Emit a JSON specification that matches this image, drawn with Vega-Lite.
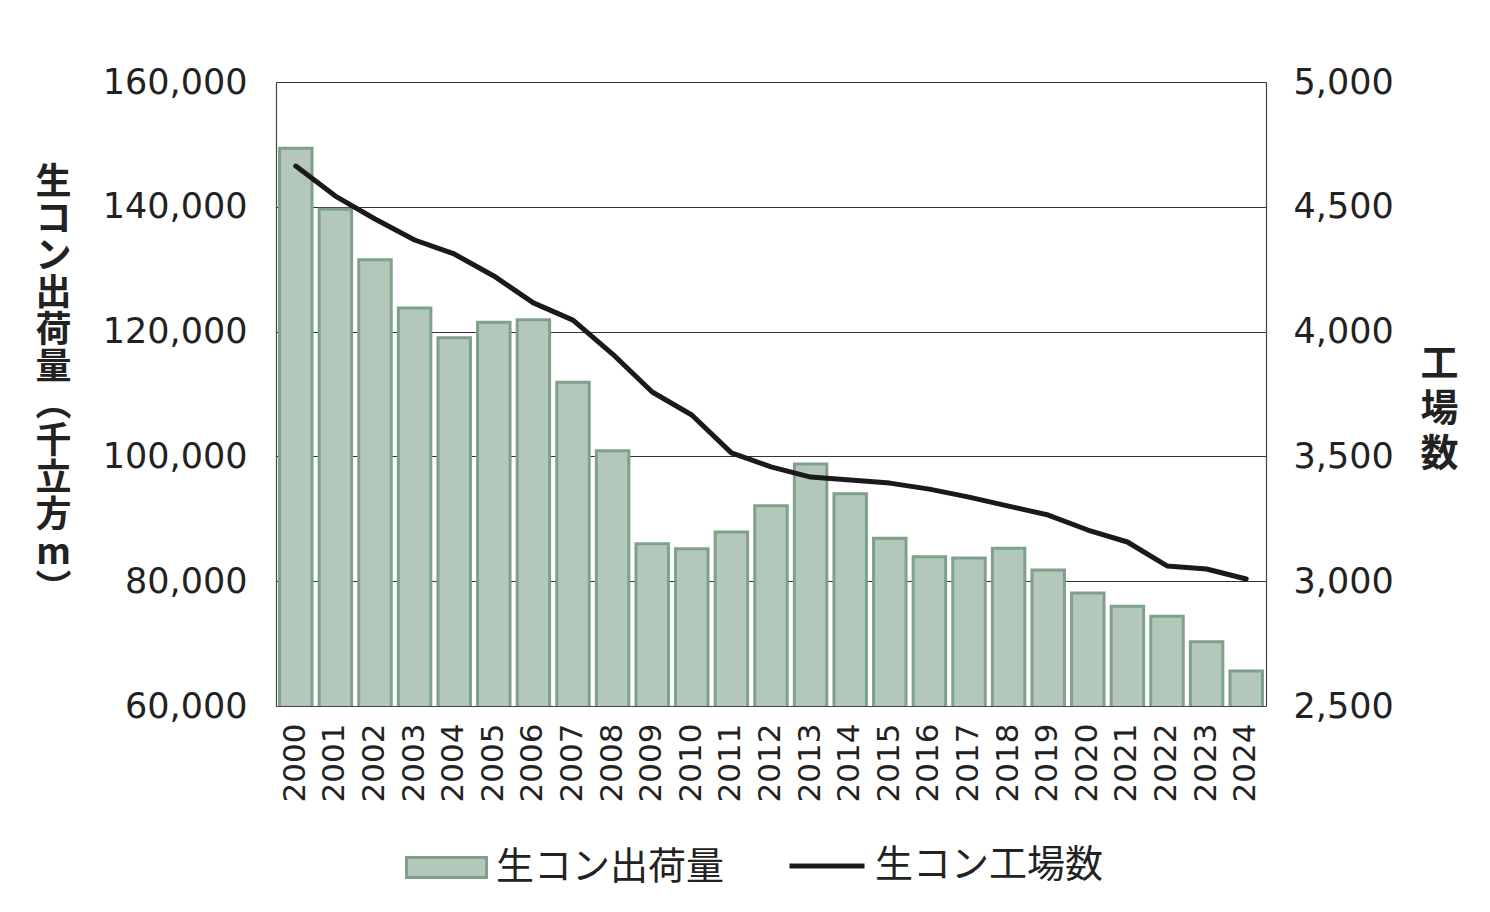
{
  "$schema": "https://vega.github.io/schema/vega-lite/v6.json",
  "autosize": {"type": "none"},
  "padding": {"left": 276, "top": 82, "right": 224, "bottom": 206},
  "width": 990,
  "height": 624,
  "background": "white",
  "datasets": {
    "d": [
      {"year": "2000", "shipment": 149400, "plants": 4663},
      {"year": "2001", "shipment": 139600, "plants": 4543},
      {"year": "2002", "shipment": 131500, "plants": 4451},
      {"year": "2003", "shipment": 123800, "plants": 4367},
      {"year": "2004", "shipment": 119000, "plants": 4311},
      {"year": "2005", "shipment": 121500, "plants": 4223},
      {"year": "2006", "shipment": 121900, "plants": 4115},
      {"year": "2007", "shipment": 111900, "plants": 4046},
      {"year": "2008", "shipment": 100900, "plants": 3910},
      {"year": "2009", "shipment": 86000, "plants": 3758},
      {"year": "2010", "shipment": 85200, "plants": 3666},
      {"year": "2011", "shipment": 87900, "plants": 3514},
      {"year": "2012", "shipment": 92100, "plants": 3458},
      {"year": "2013", "shipment": 98800, "plants": 3417},
      {"year": "2014", "shipment": 94000, "plants": 3405},
      {"year": "2015", "shipment": 86900, "plants": 3393},
      {"year": "2016", "shipment": 83900, "plants": 3369},
      {"year": "2017", "shipment": 83700, "plants": 3337},
      {"year": "2018", "shipment": 85300, "plants": 3301},
      {"year": "2019", "shipment": 81800, "plants": 3265},
      {"year": "2020", "shipment": 78100, "plants": 3205},
      {"year": "2021", "shipment": 76000, "plants": 3157},
      {"year": "2022", "shipment": 74400, "plants": 3061},
      {"year": "2023", "shipment": 70300, "plants": 3049},
      {"year": "2024", "shipment": 65600, "plants": 3009}
    ]
  },
  "data": {"name": "d"},
  "encoding": {
    "x": {
      "field": "year",
      "type": "ordinal",
      "scale": {"paddingInner": 0.18, "paddingOuter": 0.09},
      "axis": {
        "title": null,
        "labelAngle": -90,
        "labelAlign": "right",
        "labelBaseline": "middle",
        "labelPadding": 17,
        "labelFontSize": 31,
        "ticks": false,
        "domainColor": "#444",
        "domainWidth": 1.2
      }
    }
  },
  "layer": [
    {
      "mark": {"type": "bar", "stroke": "#7fa08b", "strokeWidth": 3, "clip": true},
      "encoding": {
        "y": {
          "field": "shipment",
          "type": "quantitative",
          "scale": {"domain": [60000, 160000], "zero": false, "nice": false},
          "axis": {
            "title": ["生", "コ", "ン", "出", "荷", "量", "︵", "千", "立", "方", "m", "︶"],
            "titleAngle": 0,
            "titleAlign": "center",
            "titleBaseline": "top",
            "titleX": -223,
            "titleY": 83,
            "titleLineHeight": 37,
            "titleFontSize": 36,
            "titleFontWeight": "bold",
            "values": [60000, 80000, 100000, 120000, 140000, 160000],
            "format": ",d",
            "grid": true,
            "gridColor": "#333",
            "gridWidth": 1,
            "ticks": false,
            "labelPadding": 29,
            "domainColor": "#444",
            "domainWidth": 1.2
          }
        },
        "fill": {
          "datum": "生コン出荷量",
          "type": "nominal",
          "scale": {"range": ["#b3c8bb"]},
          "legend": {
            "orient": "none",
            "legendX": 129,
            "legendY": 744,
            "title": null,
            "symbolType": "M-1,-0.25H1V0.25H-1Z",
            "symbolSize": 6400,
            "symbolStrokeColor": "#7fa08b",
            "symbolStrokeWidth": 3,
            "symbolOpacity": 1,
            "labelOffset": 8
          }
        }
      }
    },
    {
      "mark": {"type": "line", "strokeWidth": 5, "strokeJoin": "round", "strokeCap": "round"},
      "encoding": {
        "y": {
          "field": "plants",
          "type": "quantitative",
          "scale": {"domain": [2500, 5000], "zero": false, "nice": false},
          "axis": {
            "orient": "right",
            "title": ["工", "場", "数"],
            "titleAngle": 0,
            "titleAlign": "center",
            "titleBaseline": "top",
            "titleX": 173,
            "titleY": 263,
            "titleLineHeight": 45,
            "titleFontSize": 38,
            "titleFontWeight": "bold",
            "values": [2500, 3000, 3500, 4000, 4500, 5000],
            "format": ",d",
            "grid": false,
            "ticks": false,
            "labelPadding": 27,
            "domainColor": "#444",
            "domainWidth": 1.2
          }
        },
        "stroke": {
          "datum": "生コン工場数",
          "type": "nominal",
          "scale": {"range": ["#1a1a1a"]},
          "legend": {
            "orient": "none",
            "legendX": 511,
            "legendY": 744,
            "title": null,
            "symbolType": "stroke",
            "symbolSize": 5625,
            "symbolStrokeWidth": 5,
            "labelOffset": 8
          }
        }
      }
    }
  ],
  "resolve": {"scale": {"y": "independent"}},
  "config": {
    "view": {"stroke": null},
    "font": "Noto Sans CJK JP",
    "axis": {
      "labelFont": "DejaVu Sans",
      "labelFontSize": 35,
      "labelColor": "#222",
      "titleFont": "Noto Sans CJK JP",
      "titleColor": "#222"
    },
    "legend": {
      "labelFont": "Noto Sans CJK JP",
      "labelFontSize": 38,
      "labelColor": "#222",
      "labelLimit": 400
    }
  }
}
